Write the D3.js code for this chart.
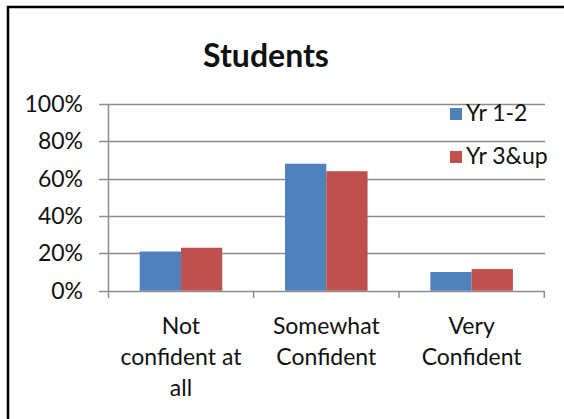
<!DOCTYPE html>
<html>
<head>
<meta charset="utf-8">
<script src="https://cdn.jsdelivr.net/npm/d3@7"></script>
<style>
  body { margin: 0; background: #fff; }
  text { font-family: Lato, "Open Sans", sans-serif; fill: #111; }
</style>
</head>
<body>
<div id="chart"></div>
<script>
var categories = [["Not", "confident at", "all"], ["Somewhat", "Confident"], ["Very", "Confident"]];
var catKeys = ["Not confident at all", "Somewhat Confident", "Very Confident"];
var seriesNames = ["Yr 1-2", "Yr 3&up"];
var yr12 = [0.21, 0.68, 0.10];
var yr3up = [0.23, 0.64, 0.116];
var yTicks = [0, 0.2, 0.4, 0.6, 0.8, 1.0];
var colors = ["#4F81BD", "#C0504D"];

var width = 564, height = 419;
var svg = d3.select("#chart").append("svg")
    .attr("width", width)
    .attr("height", height);

// outer frame (only top/left visible in the crop)
svg.append("rect")
    .attr("x", 8).attr("y", 7)
    .attr("width", 600).attr("height", 500)
    .attr("fill", "none")
    .attr("stroke", "#000")
    .attr("stroke-width", 2.5);

svg.append("text")
    .attr("x", 266).attr("y", 67)
    .attr("text-anchor", "middle")
    .style("font-weight", "bold")
    .style("font-size", "32px")
    .text("Students");

var xScale = d3.scaleBand().domain(catKeys).range([108.3, 544.3]);
var yScale = d3.scaleLinear().domain([0, 1]).range([290.7, 104]);

// gridlines
svg.selectAll(".grid").data(yTicks).enter().append("line")
    .attr("x1", 99).attr("x2", 545)
    .attr("y1", d => Math.round(yScale(d)) + 0.5)
    .attr("y2", d => Math.round(yScale(d)) + 0.5)
    .attr("stroke", "#8c8c8c")
    .attr("stroke-width", 1.5);

// y labels
svg.selectAll(".ylab").data(yTicks).enter().append("text")
    .attr("x", 83)
    .attr("y", d => yScale(d) + 8)
    .attr("text-anchor", "end")
    .style("font-size", "23px")
    .text(d => d3.format(".0%")(d));

// y axis line
svg.append("line")
    .attr("x1", 108.5).attr("x2", 108.5)
    .attr("y1", 104).attr("y2", 298)
    .attr("stroke", "#8c8c8c").attr("stroke-width", 1.5);

// category tick marks
var tickXs = catKeys.map(d => xScale(d) + xScale.bandwidth());
svg.selectAll(".xtick").data(tickXs).enter().append("line")
    .attr("x1", d => d).attr("x2", d => d)
    .attr("y1", 291).attr("y2", 298)
    .attr("stroke", "#8c8c8c").attr("stroke-width", 1.5);

// bars
var bw = xScale.bandwidth() * 0.284;
var series = [yr12, yr3up];
series.forEach(function(vals, s) {
    svg.selectAll(".bar" + s).data(vals).enter().append("rect")
        .attr("x", (d, i) => xScale(catKeys[i]) + xScale.bandwidth() / 2 - bw + s * bw)
        .attr("y", d => yScale(d))
        .attr("width", bw)
        .attr("height", d => yScale(0) - yScale(d))
        .attr("fill", colors[s]);
});

// category labels
categories.forEach(function(lines, i) {
    var cx = xScale(catKeys[i]) + xScale.bandwidth() / 2;
    lines.forEach(function(l, j) {
        svg.append("text")
            .attr("x", cx)
            .attr("y", 334 + j * 31)
            .attr("text-anchor", "middle")
            .style("font-size", "23px")
            .text(l);
    });
});

// legend
seriesNames.forEach(function(n, i) {
    svg.append("rect")
        .attr("x", 450).attr("y", 108 + i * 43)
        .attr("width", 12).attr("height", 12)
        .attr("fill", colors[i]);
    svg.append("text")
        .attr("x", 466).attr("y", 121 + i * 43)
        .style("font-size", "23px")
        .text(n);
});
</script>
</body>
</html>
